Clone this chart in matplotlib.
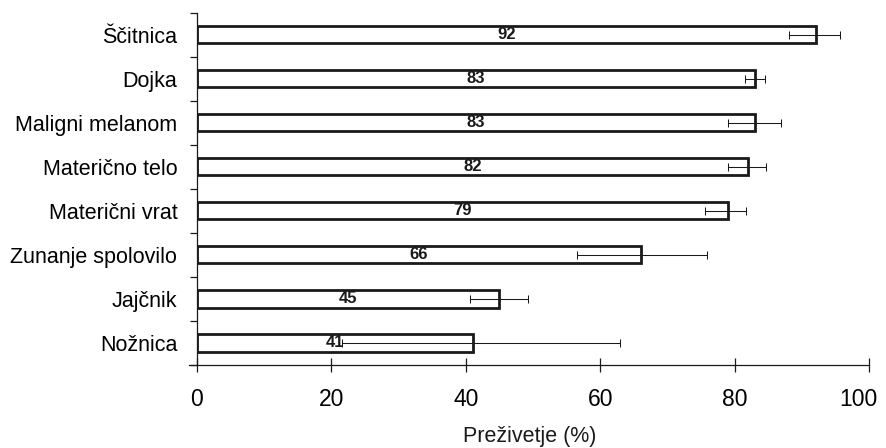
import matplotlib
matplotlib.use("Agg")
import matplotlib.pyplot as plt
import matplotlib.transforms as mtransforms
import numpy as np

categories = ["Ščitnica", "Dojka", "Maligni melanom", "Materično telo",
              "Materični vrat", "Zunanje spolovilo", "Jajčnik", "Nožnica"]
values = [92, 83, 83, 82, 79, 66, 45, 41]
err_low = [88.0, 81.5, 79.0, 79.0, 75.5, 56.6, 40.7, 21.6]
err_high = [95.7, 84.5, 86.9, 84.7, 81.6, 75.9, 49.2, 63.0]
xticks = [0, 20, 40, 60, 80, 100]
xlabel = "Preživetje (%)"

plt.rcParams['font.family'] = ['Liberation Sans', 'DejaVu Sans']

fig = plt.figure(figsize=(8.87, 4.48), dpi=100)
ax = fig.add_axes([0.2218, 0.1853, 0.7583, 0.7864])

n = len(categories)
y = np.arange(n)[::-1]
vals = np.array(values)
lo = vals - np.array(err_low)
hi = np.array(err_high) - vals

ink = "#1a1a1a"
ax.barh(y, vals, height=0.39, color="white", edgecolor=ink, linewidth=2.0, zorder=2)
ax.errorbar(vals, y, xerr=[lo, hi], fmt="none", ecolor=ink, elinewidth=0.75,
            capsize=3.2, capthick=0.75, zorder=3)
for yi, v in zip(y, vals):
    ax.text(v / 2, yi, str(v), ha="center", va="center", fontsize=12,
            fontweight="bold", color=ink, zorder=4)

ax.set_xlim(0, 100)
ax.set_ylim(-0.5, n - 0.5)
ax.set_xticks(xticks)
ax.set_xticklabels([str(t) for t in xticks], fontsize=16.5)
ax.set_yticks(y)
ax.set_yticklabels(categories, fontsize=15.5)
ax.tick_params(axis="y", length=0, pad=14)
ax.set_yticks(np.arange(-0.5, n, 1.0), minor=True)
ax.tick_params(axis="y", which="minor", length=5, width=0.9, direction="out", color=ink)
ax.tick_params(axis="x", length=9.4, width=0.9, direction="inout", pad=12, color=ink)
fig.text(0.5975, 0.003, xlabel, ha="center", va="bottom", fontsize=15.5, color=ink)

last = ax.get_xticklabels()[-1]
last.set_transform(last.get_transform() +
                   mtransforms.ScaledTranslation(-8 / 72, 0, fig.dpi_scale_trans))

for s in ["top", "right"]:
    ax.spines[s].set_visible(False)
for s in ["left", "bottom"]:
    ax.spines[s].set_linewidth(0.9)
    ax.spines[s].set_color(ink)
ax.plot([-0.012, 0], [0, 0], transform=ax.transAxes, color=ink, lw=0.9, clip_on=False)

fig.savefig("out.png", dpi=100)
